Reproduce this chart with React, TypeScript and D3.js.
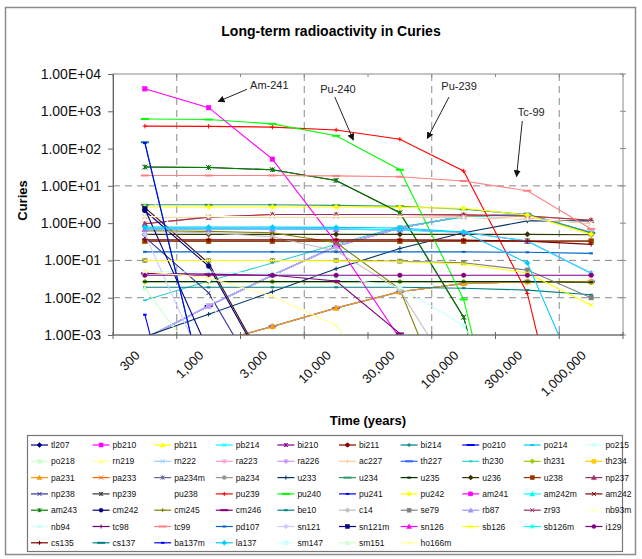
import React, { useEffect, useRef } from 'react';
import * as d3 from 'd3';

// time categories (Excel category axis, equally spaced)
const years = ['300', '1,000', '3,000', '10,000', '30,000', '100,000', '300,000', '1,000,000'];

const yTicks = [1e4, 1e3, 1e2, 1e1, 1, 0.1, 0.01, 0.001];
const yTickLabels = ['1.00E+04', '1.00E+03', '1.00E+02', '1.00E+01', '1.00E+00', '1.00E-01', '1.00E-02', '1.00E-03'];

const seriesNames = [
  'tl207', 'pb210', 'pb211', 'pb214', 'bi210', 'bi211', 'bi214', 'po210', 'po214', 'po215',
  'po218', 'rn219', 'rn222', 'ra223', 'ra226', 'ac227', 'th227', 'th230', 'th231', 'th234',
  'pa231', 'pa233', 'pa234m', 'pa234', 'u233', 'u234', 'u235', 'u236', 'u238', 'np237',
  'np238', 'np239', 'pu238', 'pu239', 'pu240', 'pu241', 'pu242', 'am241', 'am242m', 'am242',
  'am243', 'cm242', 'cm245', 'cm246', 'be10', 'c14', 'se79', 'rb87', 'zr93', 'nb93m',
  'nb94', 'tc98', 'tc99', 'pd107', 'sn121', 'sn121m', 'sn126', 'sb126', 'sb126m', 'i129',
  'cs135', 'cs137', 'ba137m', 'la137', 'sm147', 'sm151', 'ho166m',
];

// Curies at 300, 1e3, 3e3, 1e4, 3e4, 1e5, 3e5, 1e6 years
const seriesValues: number[][] = [
  [0.00017, 0.00057, 0.0017, 0.0053, 0.0144, 0.024, 0.027, 0.027], // tl207
  [0.0008, 0.006, 0.04, 0.24, 0.74, 1.55, 1.7, 0.55], // pb210
  [0.00017, 0.00057, 0.0017, 0.0053, 0.0144, 0.024, 0.027, 0.027], // pb211
  [0.0008, 0.006, 0.04, 0.24, 0.74, 1.55, 1.7, 0.55], // pb214
  [0.0008, 0.006, 0.04, 0.24, 0.74, 1.55, 1.7, 0.55], // bi210
  [0.00017, 0.00057, 0.0017, 0.0053, 0.0144, 0.024, 0.027, 0.027], // bi211
  [0.0008, 0.006, 0.04, 0.24, 0.74, 1.55, 1.7, 0.55], // bi214
  [0.0008, 0.006, 0.04, 0.24, 0.74, 1.55, 1.7, 0.55], // po210
  [0.0008, 0.006, 0.04, 0.24, 0.74, 1.55, 1.7, 0.55], // po214
  [0.00017, 0.00057, 0.0017, 0.0053, 0.0144, 0.024, 0.027, 0.027], // po215
  [0.0008, 0.006, 0.04, 0.24, 0.74, 1.55, 1.7, 0.55], // po218
  [0.00017, 0.00057, 0.0017, 0.0053, 0.0144, 0.024, 0.027, 0.027], // rn219
  [0.0008, 0.006, 0.04, 0.24, 0.74, 1.55, 1.7, 0.55], // rn222
  [0.00017, 0.00057, 0.0017, 0.0053, 0.0144, 0.024, 0.027, 0.027], // ra223
  [0.0008, 0.006, 0.04, 0.24, 0.74, 1.55, 1.7, 0.55], // ra226
  [0.00017, 0.00057, 0.0017, 0.0053, 0.0144, 0.024, 0.027, 0.027], // ac227
  [0.00017, 0.00057, 0.0017, 0.0053, 0.0144, 0.024, 0.027, 0.027], // th227
  [0.0085, 0.028, 0.085, 0.27, 0.8, 1.45, 1.75, 0.56], // th230
  [0.027, 0.027, 0.027, 0.027, 0.027, 0.027, 0.027, 0.026], // th231
  [0.33, 0.33, 0.33, 0.33, 0.33, 0.33, 0.33, 0.33], // th234
  [0.00017, 0.00057, 0.0017, 0.0053, 0.0144, 0.024, 0.027, 0.027], // pa231
  [0.96, 1.45, 1.7, 1.7, 1.7, 1.67, 1.55, 1.2], // pa233
  [0.33, 0.33, 0.33, 0.33, 0.33, 0.33, 0.33, 0.33], // pa234m
  [0.00053, 0.00053, 0.00053, 0.00053, 0.00053, 0.00053, 0.00053, 0.00053], // pa234
  [0.0009, 0.0036, 0.0145, 0.06, 0.21, 0.55, 1.15, 1.15], // u233
  [3.1, 3.1, 3.1, 3.0, 2.85, 2.35, 1.7, 0.55], // u234
  [0.027, 0.027, 0.027, 0.027, 0.027, 0.027, 0.027, 0.026], // u235
  [0.5, 0.5, 0.5, 0.5, 0.5, 0.5, 0.5, 0.49], // u236
  [0.33, 0.33, 0.33, 0.33, 0.33, 0.33, 0.33, 0.33], // u238
  [0.96, 1.45, 1.7, 1.7, 1.7, 1.67, 1.55, 1.2], // np237
  [0.42, 0.0135, 1.7e-5, 1e-9, 1e-9, 1e-9, 1e-9, 1e-9], // np238
  [32, 31, 27, 14, 1.9, 0.003, 1e-9, 1e-9], // np239
  [8, 0.03, 1e-9, 1e-9, 1e-9, 1e-9, 1e-9, 1e-9], // pu238
  [400, 395, 376, 316, 178, 25, 0.013, 1e-9], // pu239
  [620, 600, 460, 220, 27, 0.009, 1e-9, 1e-9], // pu240
  [0.0035, 1e-9, 1e-9, 1e-9, 1e-9, 1e-9, 1e-9, 1e-9], // pu241
  [2.7, 2.7, 2.7, 2.7, 2.65, 2.5, 1.65, 0.5], // pu242
  [4000, 1250, 52, 0.3, 0.0008, 1e-9, 1e-9, 1e-9], // am241
  [2.6, 0.085, 7e-5, 1e-9, 1e-9, 1e-9, 1e-9, 1e-9], // am242m
  [2.6, 0.085, 7e-5, 1e-9, 1e-9, 1e-9, 1e-9, 1e-9], // am242
  [32, 31, 27, 14, 1.9, 0.003, 1e-9, 1e-9], // am243
  [2.15, 0.07, 6e-5, 1e-9, 1e-9, 1e-9, 1e-9, 1e-9], // cm242
  [0.62, 0.6, 0.55, 0.3, 0.017, 1e-6, 1e-9, 1e-9], // cm245
  [0.045, 0.043, 0.04, 0.028, 0.0011, 1e-8, 1e-9, 1e-9], // cm246
  [0.019, 0.019, 0.019, 0.019, 0.019, 0.018, 0.016, 0.012], // be10
  [0.6, 0.55, 0.43, 0.18, 0.016, 3e-5, 1e-9, 1e-9], // c14
  [0.1, 0.1, 0.1, 0.1, 0.095, 0.087, 0.055, 0.01], // se79
  [2e-5, 2e-5, 2e-5, 2e-5, 2e-5, 2e-5, 2e-5, 2e-5], // rb87
  [1.5, 1.5, 1.5, 1.5, 1.5, 1.45, 1.3, 1.0], // zr93
  [1.5, 1.5, 1.5, 1.5, 1.5, 1.45, 1.3, 1.0], // nb93m
  [0.05, 0.049, 0.045, 0.036, 0.019, 0.0018, 2e-6, 1e-9], // nb94
  [0.0006, 0.0006, 0.0006, 0.0006, 0.0006, 0.0006, 0.0006, 0.0006], // tc98
  [19, 19, 19, 18.5, 17.5, 13.5, 7.4, 0.7], // tc99
  [0.17, 0.17, 0.17, 0.17, 0.17, 0.17, 0.165, 0.155], // pd107
  [0.5, 8e-5, 1e-9, 1e-9, 1e-9, 1e-9, 1e-9, 1e-9], // sn121
  [2.4, 3.6e-4, 1e-9, 1e-9, 1e-9, 1e-9, 1e-9, 1e-9], // sn121m
  [0.7, 0.7, 0.7, 0.69, 0.66, 0.57, 0.33, 0.045], // sn126
  [0.1, 0.1, 0.1, 0.097, 0.092, 0.08, 0.046, 0.0063], // sb126
  [0.7, 0.7, 0.7, 0.69, 0.66, 0.57, 0.33, 0.045], // sb126m
  [0.04, 0.04, 0.04, 0.04, 0.04, 0.04, 0.04, 0.04], // i129
  [0.36, 0.36, 0.36, 0.36, 0.36, 0.35, 0.33, 0.27], // cs135
  [148, 1e-5, 1e-9, 1e-9, 1e-9, 1e-9, 1e-9, 1e-9], // cs137
  [140, 1e-5, 1e-9, 1e-9, 1e-9, 1e-9, 1e-9, 1e-9], // ba137m
  [0.78, 0.78, 0.78, 0.77, 0.74, 0.58, 0.085, 1e-5], // la137
  [0.0001, 0.0001, 0.0001, 0.0001, 0.0001, 0.0001, 0.0001, 0.0001], // sm147
  [0.018, 8.5e-5, 1e-9, 1e-9, 1e-9, 1e-9, 1e-9, 1e-9], // sm151
  [0.05, 0.034, 0.011, 0.0018, 1e-5, 1e-9, 1e-9, 1e-9], // ho166m
];

// Excel 2003 automatic series colours, in legend order
const seriesColors = [
  '#000080', '#FF00FF', '#FFFF00', '#00FFFF', '#800080', '#800000', '#008080', '#0000FF', '#00CCFF', '#CCFFFF',
  '#CCFFCC', '#FFFF99', '#99CCFF', '#FF99CC', '#CC99FF', '#FFCC99', '#3366FF', '#33CCCC', '#99CC00', '#FFCC00',
  '#FF9900', '#FF6600', '#666699', '#969696', '#003366', '#339966', '#003300', '#333300', '#993300', '#993366',
  '#333399', '#333333', '#FFFFFF', '#FF0000', '#00FF00', '#0000FF', '#FFFF00', '#FF00FF', '#00FFFF', '#800000',
  '#008000', '#000080', '#808000', '#800080', '#008080', '#C0C0C0', '#808080', '#9999FF', '#993366', '#FFFFCC',
  '#CCFFFF', '#660066', '#FF8080', '#0066CC', '#CCCCFF', '#000080', '#FF00FF', '#FFFF00', '#00FFFF', '#800080',
  '#800000', '#008080', '#0000FF', '#00CCFF', '#CCFFFF', '#CCFFCC', '#FFFF99',
];

const markerCycle = ['diamond', 'square', 'triangle', 'x', 'star', 'circle', 'plus', 'dash', 'dot'];

// arrows: [category index, log10 value]
const notes = [
  { label: 'Am-241', at: [1.65, 3.6], from: [1.6, 3.59], to: [1.15, 3.26] },
  { label: 'Pu-240', at: [2.75, 3.49], from: [2.98, 3.38], to: [3.27, 2.23] },
  { label: 'Pu-239', at: [4.65, 3.58], from: [4.77, 3.38], to: [4.43, 2.27] },
  { label: 'Tc-99', at: [5.85, 2.87], from: [5.92, 2.74], to: [5.83, 1.25] },
];

const FONT = 'Liberation Sans, Arial, sans-serif';

function addMarker(g: any, shape: string, x: number, y: number, color: string, s = 4.5) {
  const h = s / 2;
  if (shape === 'diamond') {
    g.append('path').attr('d', `M${x},${y - h - 0.5}L${x + h + 0.5},${y}L${x},${y + h + 0.5}L${x - h - 0.5},${y}Z`)
      .attr('fill', color).attr('stroke', color).attr('stroke-width', 0.5);
  } else if (shape === 'square') {
    g.append('rect').attr('x', x - h).attr('y', y - h).attr('width', s).attr('height', s)
      .attr('fill', color).attr('stroke', color).attr('stroke-width', 0.5);
  } else if (shape === 'triangle') {
    g.append('path').attr('d', `M${x},${y - h - 0.5}L${x + h + 0.5},${y + h}L${x - h - 0.5},${y + h}Z`)
      .attr('fill', color).attr('stroke', color).attr('stroke-width', 0.5);
  } else if (shape === 'circle') {
    g.append('circle').attr('cx', x).attr('cy', y).attr('r', h).attr('fill', color).attr('stroke', color).attr('stroke-width', 0.5);
  } else if (shape === 'dash' || shape === 'dot') {
    const w = shape === 'dash' ? 4 : 1.8;
    g.append('line').attr('x1', x - w).attr('x2', x + w).attr('y1', y).attr('y2', y)
      .attr('stroke', color).attr('stroke-width', 2);
  } else {
    const seg: number[][] = [];
    if (shape === 'x' || shape === 'star') seg.push([-h, -h, h, h], [-h, h, h, -h]);
    if (shape === 'plus') seg.push([-h, 0, h, 0], [0, -h, 0, h]);
    if (shape === 'star') seg.push([0, -h, 0, h]);
    seg.forEach((s2) => {
      g.append('line').attr('x1', x + s2[0]).attr('y1', y + s2[1]).attr('x2', x + s2[2]).attr('y2', y + s2[3])
        .attr('stroke', color).attr('stroke-width', 1);
    });
  }
}

export default function App() {
  const ref = useRef<SVGSVGElement>(null);

  useEffect(() => {
    const W = 642;
    const H = 559;
    const left = 113, right = 623, top = 74, bottom = 335;

    const svg = d3.select(ref.current);
    svg.selectAll('*').remove();
    svg.attr('width', W).attr('height', H).style('font-family', FONT);

    // chart area
    svg.append('rect').attr('width', W).attr('height', H).attr('fill', '#fff');
    svg.append('rect').attr('x', 5.5).attr('y', 7.5).attr('width', 630).attr('height', 547)
      .attr('fill', '#fff').attr('stroke', '#8c8c8c').attr('stroke-width', 1.5);

    svg.append('text').attr('x', 331).attr('y', 36).attr('text-anchor', 'middle')
      .attr('font-size', 14).attr('font-weight', 'bold').text('Long-term radioactivity in Curies');

    const x = d3.scaleLinear().domain([-0.5, years.length - 0.5]).range([left, right]);
    const y = d3.scaleLog().domain([1e-3, 1e4]).range([bottom, top]);

    const defs = svg.append('defs');
    defs.append('clipPath').attr('id', 'plotClip').append('rect')
      .attr('x', left).attr('y', top).attr('width', right - left).attr('height', bottom - top);
    defs.append('marker').attr('id', 'arrowHead').attr('viewBox', '0 0 10 10').attr('refX', 9).attr('refY', 5)
      .attr('markerWidth', 7).attr('markerHeight', 7).attr('markerUnits', 'userSpaceOnUse').attr('orient', 'auto')
      .append('path').attr('d', 'M0,0L10,5L0,10Z').attr('fill', '#111');

    // dashed gridlines
    const grid = svg.append('g').attr('stroke', '#8a8a8a').attr('stroke-dasharray', '7,5').attr('stroke-width', 1);
    [0.5, 2.5, 4.5, 6.5].forEach((c) => {
      grid.append('line').attr('x1', x(c)).attr('x2', x(c)).attr('y1', top).attr('y2', bottom);
    });
    [10, 0.1, 0.01].forEach((v) => {
      grid.append('line').attr('x1', left).attr('x2', right).attr('y1', y(v)).attr('y2', y(v));
    });

    // plot border
    svg.append('rect').attr('x', left).attr('y', top).attr('width', right - left).attr('height', bottom - top)
      .attr('fill', 'none').attr('stroke', '#8a8a8a').attr('stroke-width', 1);
    const stubs = svg.append('g').attr('stroke', '#8a8a8a');
    d3.range(-0.5, years.length, 1).forEach((c) => {
      stubs.append('line').attr('x1', x(c)).attr('x2', x(c)).attr('y1', top).attr('y2', top + 3);
    });
    yTicks.forEach((v) => {
      stubs.append('line').attr('x1', right - 3).attr('x2', right + 3).attr('y1', y(v)).attr('y2', y(v));
    });

    // series
    const plot = svg.append('g').attr('clip-path', 'url(#plotClip)');
    const line = d3.line<number>().x((_, i) => x(i)).y((d) => y(d));
    seriesValues.forEach((vals, s) => {
      const color = seriesColors[s];
      plot.append('path').attr('d', line(vals) as string).attr('fill', 'none')
        .attr('stroke', color).attr('stroke-width', 1.1);
      const mg = plot.append('g');
      vals.forEach((v, i) => {
        if (v >= 1e-3) addMarker(mg, markerCycle[s % markerCycle.length], x(i), y(v), color);
      });
    });

    // axes
    const yAxis = d3.axisLeft(y).tickValues(yTicks).tickFormat((_, i) => yTickLabels[i]).tickSize(5).tickPadding(7);
    const gy = svg.append('g').attr('transform', `translate(${left},0)`).call(yAxis);
    gy.select('.domain').attr('stroke', '#666');
    gy.selectAll('.tick line').attr('stroke', '#666');
    gy.selectAll('text').attr('font-size', 14).attr('font-family', FONT).attr('fill', '#111');

    const gx = svg.append('g').attr('transform', `translate(0,${bottom})`);
    gx.append('line').attr('x1', left).attr('x2', right).attr('stroke', '#666');
    d3.range(-0.5, years.length, 1).forEach((c) => {
      gx.append('line').attr('x1', x(c)).attr('x2', x(c)).attr('y1', -3).attr('y2', 4).attr('stroke', '#666');
    });
    const xAxis = d3.axisBottom(x).tickValues(d3.range(years.length)).tickFormat((d) => years[d as number]).tickSize(0);
    const gxl = svg.append('g').attr('transform', `translate(0,${bottom})`).call(xAxis);
    gxl.select('.domain').remove();
    gxl.selectAll('text').attr('font-size', 13).attr('font-family', FONT).attr('fill', '#111')
      .attr('text-anchor', 'end').attr('y', 0).attr('dy', '0.35em').attr('transform', 'translate(-8,18) rotate(-45)');

    svg.append('text').attr('transform', `translate(27,${(top + bottom) / 2 - 4}) rotate(-90)`)
      .attr('text-anchor', 'middle').attr('font-size', 13).attr('font-weight', 'bold').text('Curies');
    svg.append('text').attr('x', (left + right) / 2).attr('y', 425).attr('text-anchor', 'middle')
      .attr('font-size', 13).attr('font-weight', 'bold').text('Time (years)');

    // annotations
    const ann = svg.append('g');
    notes.forEach((n) => {
      ann.append('text').attr('x', x(n.at[0])).attr('y', y(10 ** n.at[1])).attr('font-size', 11).attr('fill', '#222').text(n.label);
      ann.append('line').attr('x1', x(n.from[0])).attr('y1', y(10 ** n.from[1]))
        .attr('x2', x(n.to[0])).attr('y2', y(10 ** n.to[1]))
        .attr('stroke', '#222').attr('stroke-width', 1).attr('marker-end', 'url(#arrowHead)');
    });

    // legend
    const lg = svg.append('g');
    lg.append('rect').attr('x', 27.5).attr('y', 435.5).attr('width', 595).attr('height', 116)
      .attr('fill', '#fff').attr('stroke', '#777').attr('stroke-width', 1.2);
    seriesNames.forEach((name, s) => {
      const col = s % 10;
      const row = Math.floor(s / 10);
      const lx = 31 + col * 61.6;
      const ly = 445 + row * 16.3;
      const color = seriesColors[s];
      lg.append('line').attr('x1', lx).attr('x2', lx + 17).attr('y1', ly).attr('y2', ly)
        .attr('stroke', color).attr('stroke-width', 1.2);
      addMarker(lg, markerCycle[s % markerCycle.length], lx + 8.5, ly, color, 4);
      lg.append('text').attr('x', lx + 20).attr('y', ly + 3).attr('font-size', 8.5).attr('fill', '#111').text(name);
    });
  }, []);

  return (
    <div style={{ position: 'absolute', left: 0, top: 0 }}>
      <svg ref={ref} style={{ display: 'block' }}></svg>
    </div>
  );
}
